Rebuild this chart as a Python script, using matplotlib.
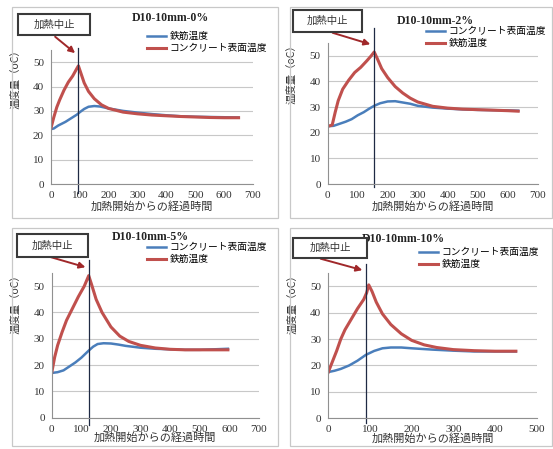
import matplotlib
matplotlib.use("Agg")
import matplotlib.pyplot as plt
from matplotlib.patches import Rectangle

plt.rcParams['font.family'] = ['Noto Sans CJK JP', 'DejaVu Sans']

W, H = 553, 449

# ---- data ----
titles = ["D10-10mm-0%", "D10-10mm-2%", "D10-10mm-5%", "D10-10mm-10%"]
blue_labels = ["鉄筋温度", "コンクリート表面温度", "コンクリート表面温度", "コンクリート表面温度"]
red_labels = ["コンクリート表面温度", "鉄筋温度", "鉄筋温度", "鉄筋温度"]
stop_times = [95, 155, 127, 91]
xmax = [700, 700, 700, 500]

red1_x = [0, 10, 20, 30, 45, 60, 75, 90, 95, 105, 115, 130, 150, 175, 200, 250, 300, 350, 400, 450, 500, 550, 600, 650]
red1_y = [23, 27.5, 31.5, 34.5, 38.5, 41.8, 44.3, 47.5, 48.5, 45, 41.5, 38, 35, 32.5, 31, 29.5, 28.8, 28.3, 28, 27.7, 27.5, 27.3, 27.2, 27.2]
blue1_x = [0, 10, 25, 50, 70, 90, 100, 115, 130, 150, 170, 200, 250, 300, 350, 400, 450, 500, 550, 600, 650]
blue1_y = [22.5, 22.8, 24, 25.5, 27, 28.5, 29.5, 30.8, 31.7, 32, 31.8, 31, 30, 29.3, 28.7, 28.2, 27.8, 27.6, 27.5, 27.4, 27.3]

red2_x = [0, 15, 25, 35, 50, 70, 90, 110, 130, 145, 155, 165, 180, 200, 225, 250, 275, 300, 350, 400, 450, 500, 550, 600, 635]
red2_y = [22.5, 23, 28, 32.5, 37, 40.5, 43.5, 45.5, 48, 50, 51.5, 49, 45, 41.5, 38, 35.5, 33.5, 32, 30.3, 29.6, 29.2, 29, 28.8, 28.6, 28.4]
blue2_x = [0, 20, 40, 60, 80, 100, 120, 140, 155, 175, 200, 225, 250, 275, 300, 350, 400, 450, 500, 550, 600, 635]
blue2_y = [22.5, 22.7, 23.5, 24.3, 25.3, 26.8, 28, 29.5, 30.5, 31.5, 32.2, 32.3, 31.8, 31.3, 30.5, 29.8, 29.4, 29.1, 28.9, 28.8, 28.7, 28.6]

red3_x = [0, 10, 20, 35, 50, 70, 90, 110, 125, 135, 150, 170, 200, 230, 260, 300, 350, 400, 450, 500, 550, 595]
red3_y = [17, 23, 27.5, 32.5, 37, 41.5, 46, 50, 54, 50.5, 45, 40, 34.5, 31, 29, 27.5, 26.5, 26, 25.8, 25.8, 25.8, 25.8]
blue3_x = [0, 20, 40, 60, 80, 100, 125, 140, 155, 175, 200, 225, 250, 300, 350, 400, 450, 500, 550, 595]
blue3_y = [17, 17.3, 18, 19.5, 21, 22.8, 25.5, 27, 28, 28.3, 28.2, 27.8, 27.3, 26.6, 26.2, 26, 25.8, 25.8, 26, 26.2]

red4_x = [0, 10, 20, 30, 40, 55, 70, 85, 92, 97, 105, 115, 130, 150, 175, 200, 230, 260, 300, 350, 400, 450]
red4_y = [17.5, 21.5, 25.5, 30, 33.5, 37.5, 41.5, 45, 47.5, 50.5, 48, 44, 39.5, 35.5, 32, 29.5, 27.8, 26.8, 26, 25.6, 25.4, 25.4]
blue4_x = [0, 15, 30, 50, 70, 90, 110, 130, 150, 175, 200, 250, 300, 350, 400, 450]
blue4_y = [17.5, 18, 18.7, 20, 21.8, 24, 25.5, 26.5, 26.8, 26.8, 26.5, 26, 25.6, 25.3, 25.3, 25.3]

reds = [(red1_x, red1_y), (red2_x, red2_y), (red3_x, red3_y), (red4_x, red4_y)]
blues = [(blue1_x, blue1_y), (blue2_x, blue2_y), (blue3_x, blue3_y), (blue4_x, blue4_y)]

# ---- layout (pixels from top-left) ----
frames = [(12, 7, 278, 218), (290, 7, 552, 218), (12, 228, 278, 446), (290, 228, 552, 446)]
axes_px = [(51, 50, 253, 184), (327.7, 43, 537.7, 184), (51.7, 273, 259, 417.7), (328.3, 273, 536.7, 418.3)]
title_px = [(170, 18), (435, 21), (150, 237), (403, 239)]
legend_px = [(147, 31), (426, 26), (147, 242), (419, 247)]
box_px = [(18, 14, 90, 35), (293, 10, 362, 32), (17, 234, 88, 257), (293, 238, 367, 258)]
arrow_start = [(53, 35), (330, 32), (40, 254), (318, 258)]
arrow_tip_y = [53, 54.2, 56.9, 55.8]
vline_span = [(-0.067, 1.015), (-0.02, 1.106), (-0.05, 1.09), (-0.03, 1.06)]
xlabel_pad = [1, 1, -1, -1]

red_c = '#c0504d'
blue_c = '#4a7ebb'


def fx(x):
    return x / W


def fy(y):
    return 1 - y / H


fig = plt.figure(figsize=(W / 100, H / 100), dpi=100)

for i in range(4):
    x0, y0, x1, y1 = frames[i]
    fig.patches.append(Rectangle((fx(x0), fy(y1)), (x1 - x0) / W, (y1 - y0) / H,
                                 transform=fig.transFigure, fill=False,
                                 edgecolor='#c8c8c8', lw=0.9))

    l, t, r, b = axes_px[i]
    ax = fig.add_axes([fx(l), fy(b), (r - l) / W, (b - t) / H])
    ax.plot(blues[i][0], blues[i][1], color=blue_c, lw=1.8, label=blue_labels[i])
    ax.plot(reds[i][0], reds[i][1], color=red_c, lw=2.2, label=red_labels[i])
    ax.legend(loc='upper left', bbox_to_anchor=(fx(legend_px[i][0]), fy(legend_px[i][1])),
              bbox_transform=fig.transFigure, frameon=False, fontsize=7,
              handlelength=2.0, handletextpad=0.3, labelspacing=0.2,
              borderpad=0, borderaxespad=0)

    ax.set_xlim(0, xmax[i])
    ax.set_ylim(0, 55)
    ax.set_yticks([0, 10, 20, 30, 40, 50])
    ax.set_xticks(list(range(0, xmax[i] + 1, 100)))
    ax.grid(axis='y', color='#c8c8c8', lw=0.8)
    ax.set_axisbelow(True)
    for s in ['top', 'right']:
        ax.spines[s].set_visible(False)
    for s in ['left', 'bottom']:
        ax.spines[s].set_color('#909090')
        ax.spines[s].set_linewidth(0.8)
    ax.tick_params(length=0, labelsize=8, colors='#333333', pad=5)
    for lab in ax.get_xticklabels() + ax.get_yticklabels():
        lab.set_fontfamily('Liberation Serif')
    ax.set_xlabel("加熱開始からの経過時間", fontsize=8, color='#333333', labelpad=xlabel_pad[i])
    ax.set_ylabel("温度量（oC）", fontsize=7.5, color='#333333')
    ax.yaxis.set_label_coords(-0.15, 0.8)

    lo, hi = vline_span[i]
    ax.axvline(stop_times[i], ymin=lo, ymax=hi, color='#1f2a44', lw=0.9, clip_on=False)

    ax.annotate("", xy=(stop_times[i] - 4 * xmax[i] / 700, arrow_tip_y[i]), xycoords='data',
                xytext=(fx(arrow_start[i][0]), fy(arrow_start[i][1])), textcoords='figure fraction',
                arrowprops=dict(arrowstyle='-|>', color='#a0282a', lw=1.4, mutation_scale=9),
                annotation_clip=False)

    bx0, by0, bx1, by1 = box_px[i]
    fig.patches.append(Rectangle((fx(bx0), fy(by1)), (bx1 - bx0) / W, (by1 - by0) / H,
                                 transform=fig.transFigure, facecolor='white',
                                 edgecolor='#3a3a3a', lw=1.5, zorder=5))
    fig.text(fx((bx0 + bx1) / 2), fy((by0 + by1) / 2), "加熱中止", fontsize=7.5,
             ha='center', va='center', color='#333333', zorder=6)

    fig.text(fx(title_px[i][0]), fy(title_px[i][1]), titles[i], fontsize=8.5,
             fontweight='bold', fontfamily='Liberation Serif', ha='center', va='center',
             color='#222222')

fig.savefig("out.png", dpi=100)
